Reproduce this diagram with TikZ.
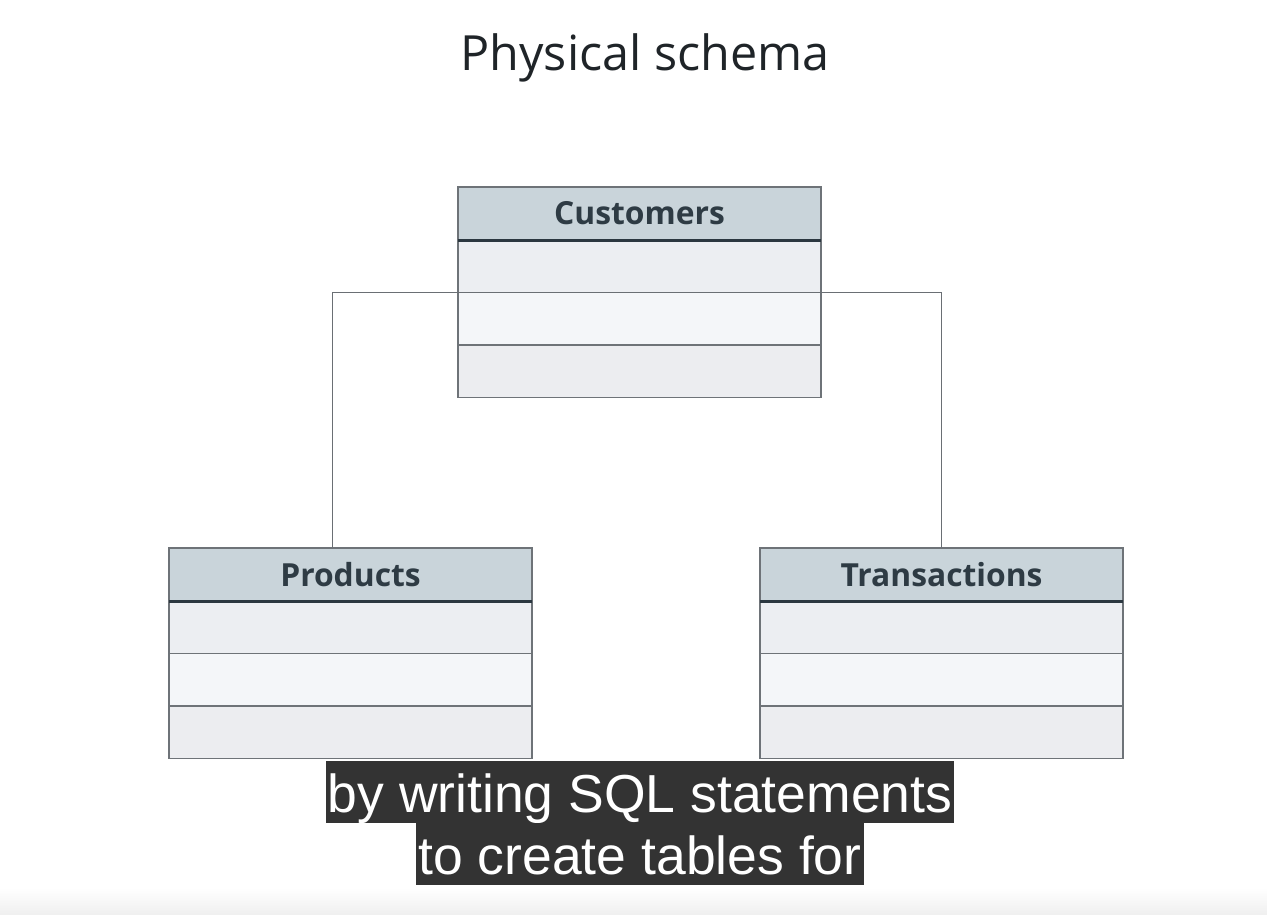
\documentclass[tikz,border=0pt]{standalone}
\usepackage{fontspec}
\setmainfont{Open Sans}
\newfontfamily\capfont{Liberation Sans}
\definecolor{titlecol}{HTML}{1F2428}
\definecolor{hdrtext}{HTML}{2E3B44}
\definecolor{hdrfill}{HTML}{C9D4DA}
\definecolor{rowA}{HTML}{ECEEF2}
\definecolor{rowB}{HTML}{F4F6F9}
\definecolor{rowC}{HTML}{ECEDF0}
\definecolor{bordercol}{HTML}{6E7378}
\definecolor{linecol}{HTML}{6A6F74}
\definecolor{thickcol}{HTML}{2B3740}
\definecolor{capbg}{HTML}{333333}
\begin{document}
\begin{tikzpicture}[x=1pt,y=-1pt,
  hdr/.style={draw=bordercol, line width=1.3pt, fill=hdrfill, minimum width=363pt, minimum height=53pt,
    inner sep=0pt, outer sep=0pt, anchor=north west, font=\bfseries\fontsize{31.8}{36}\selectfont, text=hdrtext},
  tblrow/.style={draw=bordercol, line width=1.3pt, minimum width=363pt, minimum height=52.5pt,
    inner sep=0pt, outer sep=0pt, anchor=north west},
  hdrline/.style={draw=thickcol, line width=3pt},
  conn/.style={draw=linecol, line width=1.1pt},
  caption/.style={fill=capbg, text=white, font=\capfont\fontsize{53.5}{60}\selectfont,
    inner xsep=2pt, inner ysep=0pt, text height=51pt, text depth=11pt, anchor=north}]
\useasboundingbox (0,0) rectangle (1267,914);
\fill[white] (0,0) rectangle (1267,914);
\shade[top color=white, bottom color=black!6] (0,888) rectangle (1267,914);

\node[font=\fontsize{48.5}{58}\selectfont, text=titlecol, anchor=base] (title) at (645,70) {Physical schema};

% Customers
\node[hdr] (cust) at (458,187) {Customers};
\node[tblrow, fill=rowA] (cust-r1) at (cust.south west) {};
\node[tblrow, fill=rowB] (cust-r2) at (cust-r1.south west) {};
\node[tblrow, fill=rowC] (cust-r3) at (cust-r2.south west) {};

% Products
\node[hdr] (prod) at (169,548) {Products};
\node[tblrow, fill=rowA] (prod-r1) at (prod.south west) {};
\node[tblrow, fill=rowB] (prod-r2) at (prod-r1.south west) {};
\node[tblrow, fill=rowC] (prod-r3) at (prod-r2.south west) {};

% Transactions
\node[hdr] (trans) at (760,548) {Transactions};
\node[tblrow, fill=rowA] (trans-r1) at (trans.south west) {};
\node[tblrow, fill=rowB] (trans-r2) at (trans-r1.south west) {};
\node[tblrow, fill=rowC] (trans-r3) at (trans-r2.south west) {};

% connectors
\draw[conn] (cust-r2.north west) -| ([xshift=-18pt]prod.north);
\draw[conn] (cust-r2.north east) -| (trans.north);
\draw[conn] (cust-r2.north west) -- (cust-r2.north east);

% header bottom lines
\draw[hdrline] (cust.south west) -- (cust.south east);
\draw[hdrline] (prod.south west) -- (prod.south east);
\draw[hdrline] (trans.south west) -- (trans.south east);

% captions
\node[caption] (cap1) at (640,761) {by writing SQL statements};
\node[caption] (cap2) at (640,823) {to create tables for};
\end{tikzpicture}
\end{document}
